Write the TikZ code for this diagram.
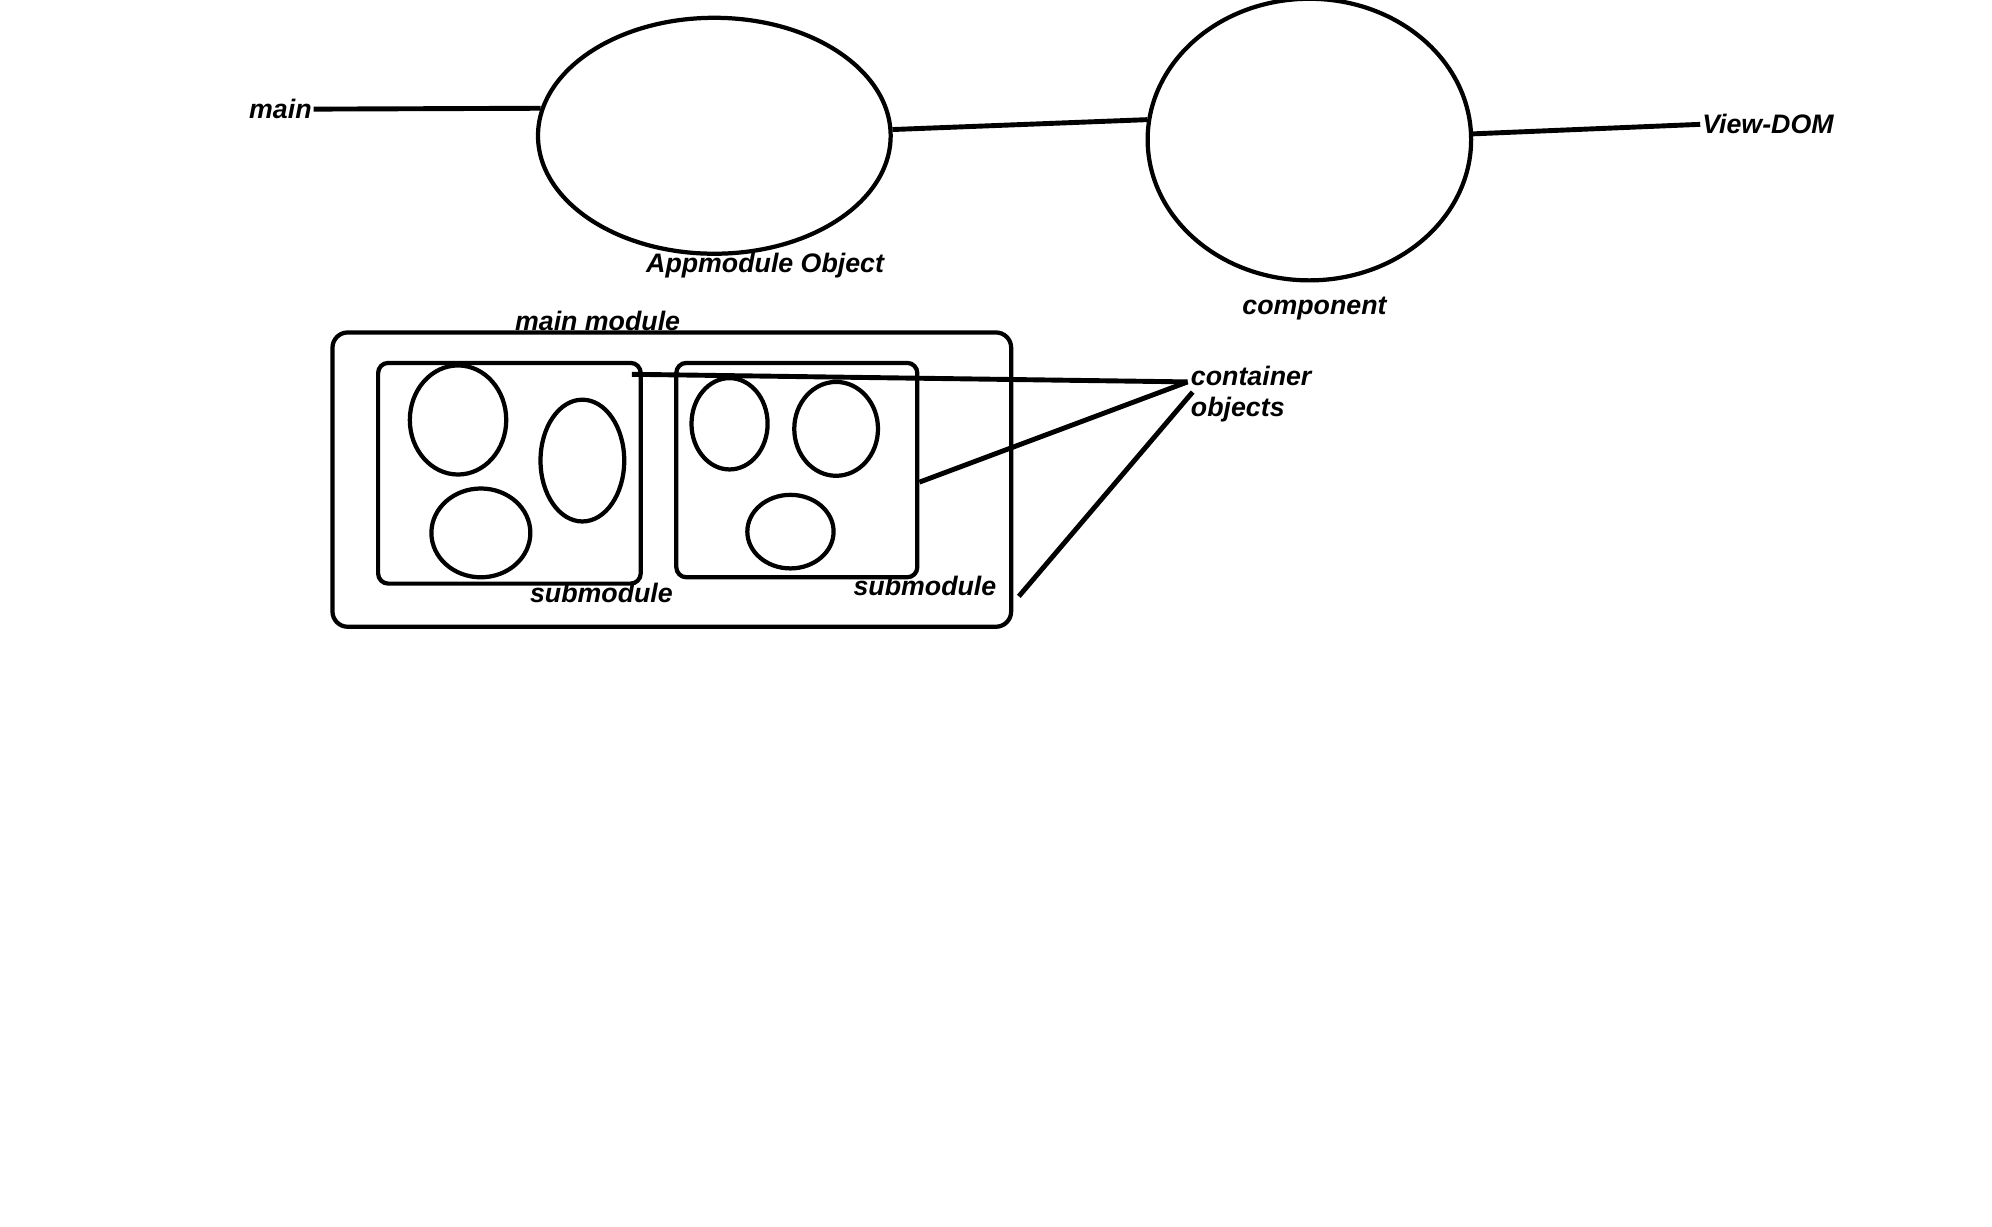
\documentclass[tikz,border=0pt]{standalone}
\usepackage{fontspec}
\setmainfont{Liberation Sans}
\usetikzlibrary{shapes.geometric, positioning}

\begin{document}
\begin{tikzpicture}[x=0.02cm, y=-0.02cm, line width=1.9pt,
    obj/.style={draw, ellipse, inner sep=0pt},
    box/.style={draw, rectangle, inner sep=0pt},
    lbl/.style={inner sep=0pt, font=\fontsize{12}{14}\selectfont\bfseries\itshape},
    link/.style={line width=2.2pt}]
    \useasboundingbox (0,0) rectangle (1570,967);

    % top row
    \node[obj, minimum width=5.56cm, minimum height=3.72cm] (app) at (563,107) {};
    \node[obj, minimum width=5.1cm, minimum height=4.44cm] (comp) at (1032,110) {};
    \node[lbl] (main) at (221,86) {main};
    \node[lbl, anchor=west] (vd) at (1340,98) {View-DOM};
    \node[lbl] (applbl) at (603,209) {Appmodule Object};
    \node[lbl] (complbl) at (1036,243) {component};

    \draw[link] (main.east) -- (app.171);
    \draw[link] (app.2) -- (comp.173);
    \draw[link] (comp.2) -- (vd.west);

    % main module
    \node[box, rounded corners=0.24cm, minimum width=10.7cm, minimum height=4.64cm] (mm) at (529.5,378) {};
    \node[box, rounded corners=0.16cm, minimum width=4.14cm, minimum height=3.48cm] (sub1) at (401.5,373) {};
    \node[box, rounded corners=0.16cm, minimum width=3.8cm, minimum height=3.38cm] (sub2) at (628,370.5) {};
    \node[lbl] (mmlbl) at (471,253) {main module};
    \node[lbl] (sub1lbl) at (474,467) {submodule};
    \node[lbl] (sub2lbl) at (729,462) {submodule};

    \foreach \i/\x/\y/\w/\h in {1/361/331/1.52/1.72, 2/459/363/1.32/1.92, 3/379/420/1.56/1.40,
                                4/575/334/1.2/1.44, 5/659/338/1.32/1.48, 6/623/419/1.36/1.16}
        \node[obj, minimum width=\w cm, minimum height=\h cm] (o\i) at (\x,\y) {};

    % container objects
    \node[lbl, anchor=north west, align=left] (cont) at (937,287) {container\\objects};
    \coordinate (c1) at (936,301);
    \coordinate (c2) at (940,309);
    \coordinate (s1) at (498,295);
    \coordinate (s3) at (803,470);

    \draw[link] (s1) -- (c1);
    \draw[link] ([yshift=-0.19cm]sub2.east) -- (c1);
    \draw[link] (s3) -- (c2);
\end{tikzpicture}
\end{document}
